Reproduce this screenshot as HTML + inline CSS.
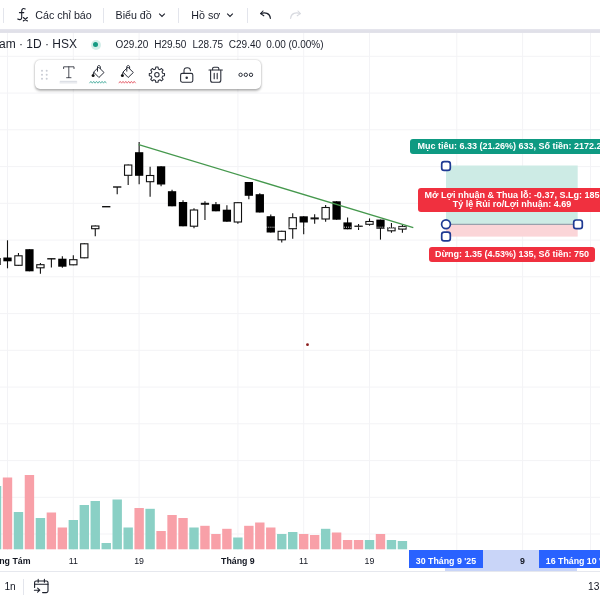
<!DOCTYPE html>
<html lang="vi"><head><meta charset="utf-8"><title>Chart</title>
<style>
html,body{margin:0;padding:0;}
body{width:600px;height:600px;overflow:hidden;background:#fff;position:relative;font-family:"Liberation Sans","DejaVu Sans",sans-serif;color:#131722;}
.abs{position:absolute;white-space:nowrap;}
.top{font-size:10.7px;line-height:14px;top:8px;color:#1b1f2b;}
.vd{position:absolute;width:1px;background:#e3e5ec;}
.leg{font-size:10px;line-height:14px;top:37.6px;color:#1b1f2b;}
.lab{position:absolute;color:#fff;font-weight:bold;font-size:9px;text-align:center;border-radius:3px;white-space:nowrap;}
.ax{font-size:8.8px;line-height:12px;top:554.6px;color:#131722;}
.axb{font-weight:bold;}
.tl{position:absolute;top:550px;height:17.8px;box-sizing:border-box;padding-top:5.3px;background:#2962ff;color:#fff;font-weight:bold;font-size:8.8px;line-height:12px;white-space:nowrap;overflow:hidden;}
</style></head><body>
<svg class="abs" style="left:0;top:0" width="600" height="600" viewBox="0 0 600 600">
<line x1="0" y1="56.3" x2="600" y2="56.3" stroke="#f3f3f6" stroke-width="1"/>
<line x1="0" y1="93.1" x2="600" y2="93.1" stroke="#f3f3f6" stroke-width="1"/>
<line x1="0" y1="129.8" x2="600" y2="129.8" stroke="#f3f3f6" stroke-width="1"/>
<line x1="0" y1="166.6" x2="600" y2="166.6" stroke="#f3f3f6" stroke-width="1"/>
<line x1="0" y1="203.3" x2="600" y2="203.3" stroke="#f3f3f6" stroke-width="1"/>
<line x1="0" y1="240.1" x2="600" y2="240.1" stroke="#f3f3f6" stroke-width="1"/>
<line x1="0" y1="276.8" x2="600" y2="276.8" stroke="#f3f3f6" stroke-width="1"/>
<line x1="0" y1="313.6" x2="600" y2="313.6" stroke="#f3f3f6" stroke-width="1"/>
<line x1="0" y1="350.3" x2="600" y2="350.3" stroke="#f3f3f6" stroke-width="1"/>
<line x1="0" y1="387.1" x2="600" y2="387.1" stroke="#f3f3f6" stroke-width="1"/>
<line x1="0" y1="423.8" x2="600" y2="423.8" stroke="#f3f3f6" stroke-width="1"/>
<line x1="0" y1="460.6" x2="600" y2="460.6" stroke="#f3f3f6" stroke-width="1"/>
<line x1="0" y1="497.3" x2="600" y2="497.3" stroke="#f3f3f6" stroke-width="1"/>
<line x1="0" y1="534.0" x2="600" y2="534.0" stroke="#f3f3f6" stroke-width="1"/>
<line x1="7.5" y1="33" x2="7.5" y2="550" stroke="#f3f3f6" stroke-width="1"/>
<line x1="73.3" y1="33" x2="73.3" y2="550" stroke="#f3f3f6" stroke-width="1"/>
<line x1="139.1" y1="33" x2="139.1" y2="550" stroke="#f3f3f6" stroke-width="1"/>
<line x1="237.9" y1="33" x2="237.9" y2="550" stroke="#f3f3f6" stroke-width="1"/>
<line x1="303.7" y1="33" x2="303.7" y2="550" stroke="#f3f3f6" stroke-width="1"/>
<line x1="369.5" y1="33" x2="369.5" y2="550" stroke="#f3f3f6" stroke-width="1"/>
<line x1="456.8" y1="33" x2="456.8" y2="550" stroke="#f3f3f6" stroke-width="1"/>
<line x1="522.6" y1="33" x2="522.6" y2="550" stroke="#f3f3f6" stroke-width="1"/>
<line x1="590.5" y1="33" x2="590.5" y2="550" stroke="#f3f3f6" stroke-width="1"/>
<rect x="-8.17" y="486.0" width="9.4" height="63.3" fill="#8ad0c5"/>
<rect x="2.80" y="477.5" width="9.4" height="71.8" fill="#f8a0a8"/>
<rect x="13.77" y="512.0" width="9.4" height="37.3" fill="#8ad0c5"/>
<rect x="24.74" y="475.0" width="9.4" height="74.3" fill="#f8a0a8"/>
<rect x="35.71" y="518.0" width="9.4" height="31.3" fill="#8ad0c5"/>
<rect x="46.68" y="512.5" width="9.4" height="36.8" fill="#f8a0a8"/>
<rect x="57.65" y="527.5" width="9.4" height="21.8" fill="#f8a0a8"/>
<rect x="68.62" y="520.0" width="9.4" height="29.3" fill="#8ad0c5"/>
<rect x="79.59" y="505.0" width="9.4" height="44.3" fill="#8ad0c5"/>
<rect x="90.56" y="501.0" width="9.4" height="48.3" fill="#8ad0c5"/>
<rect x="101.53" y="543.0" width="9.4" height="6.3" fill="#8ad0c5"/>
<rect x="112.50" y="499.5" width="9.4" height="49.8" fill="#8ad0c5"/>
<rect x="123.47" y="527.5" width="9.4" height="21.8" fill="#8ad0c5"/>
<rect x="134.44" y="508.0" width="9.4" height="41.3" fill="#f8a0a8"/>
<rect x="145.41" y="508.8" width="9.4" height="40.5" fill="#8ad0c5"/>
<rect x="156.38" y="531.0" width="9.4" height="18.3" fill="#f8a0a8"/>
<rect x="167.35" y="515.0" width="9.4" height="34.3" fill="#f8a0a8"/>
<rect x="178.32" y="518.0" width="9.4" height="31.3" fill="#f8a0a8"/>
<rect x="189.29" y="527.5" width="9.4" height="21.8" fill="#8ad0c5"/>
<rect x="200.26" y="525.8" width="9.4" height="23.5" fill="#f8a0a8"/>
<rect x="211.23" y="534.0" width="9.4" height="15.3" fill="#f8a0a8"/>
<rect x="222.20" y="528.8" width="9.4" height="20.5" fill="#f8a0a8"/>
<rect x="233.17" y="537.5" width="9.4" height="11.8" fill="#8ad0c5"/>
<rect x="244.14" y="525.8" width="9.4" height="23.5" fill="#f8a0a8"/>
<rect x="255.11" y="522.5" width="9.4" height="26.8" fill="#f8a0a8"/>
<rect x="266.08" y="527.5" width="9.4" height="21.8" fill="#f8a0a8"/>
<rect x="277.05" y="534.0" width="9.4" height="15.3" fill="#8ad0c5"/>
<rect x="288.02" y="532.0" width="9.4" height="17.3" fill="#8ad0c5"/>
<rect x="298.99" y="534.0" width="9.4" height="15.3" fill="#f8a0a8"/>
<rect x="309.96" y="535.0" width="9.4" height="14.3" fill="#f8a0a8"/>
<rect x="320.93" y="528.8" width="9.4" height="20.5" fill="#8ad0c5"/>
<rect x="331.90" y="532.5" width="9.4" height="16.8" fill="#f8a0a8"/>
<rect x="342.87" y="540.0" width="9.4" height="9.3" fill="#f8a0a8"/>
<rect x="353.84" y="540.0" width="9.4" height="9.3" fill="#f8a0a8"/>
<rect x="364.81" y="540.0" width="9.4" height="9.3" fill="#8ad0c5"/>
<rect x="375.78" y="534.0" width="9.4" height="15.3" fill="#f8a0a8"/>
<rect x="386.75" y="540.0" width="9.4" height="9.3" fill="#8ad0c5"/>
<rect x="397.72" y="541.0" width="9.4" height="8.3" fill="#8ad0c5"/>
<rect x="446" y="165.5" width="131.7" height="58.5" fill="#cdebe5"/>
<rect x="446" y="224.6" width="131.7" height="12" fill="#fbd5d8"/>
<line x1="446" y1="224.3" x2="578" y2="224.3" stroke="#9aa0ac" stroke-width="1.2"/>
<line x1="-3.47" y1="258.0" x2="-3.47" y2="265.0" stroke="#111" stroke-width="1.1"/>
<rect x="-7.62" y="258.0" width="8.3" height="7.0" fill="#000"/>
<line x1="7.50" y1="240.3" x2="7.50" y2="268.3" stroke="#111" stroke-width="1.1"/>
<rect x="3.35" y="257.5" width="8.3" height="3.8" fill="#000"/>
<line x1="18.47" y1="253.0" x2="18.47" y2="265.8" stroke="#111" stroke-width="1.1"/>
<rect x="14.82" y="255.8" width="7.300000000000001" height="9.5" fill="#fff" stroke="#111" stroke-width="1.1"/>
<line x1="29.44" y1="249.2" x2="29.44" y2="271.3" stroke="#111" stroke-width="1.1"/>
<rect x="25.29" y="249.2" width="8.3" height="22.1" fill="#000"/>
<line x1="40.41" y1="263.0" x2="40.41" y2="273.7" stroke="#111" stroke-width="1.1"/>
<rect x="36.76" y="264.7" width="7.300000000000001" height="3.1" fill="#fff" stroke="#111" stroke-width="1.1"/>
<line x1="51.38" y1="258.8" x2="51.38" y2="267.5" stroke="#111" stroke-width="1.1"/>
<line x1="47.23" y1="258.8" x2="55.53" y2="258.8" stroke="#111" stroke-width="1.4"/>
<line x1="62.35" y1="256.3" x2="62.35" y2="267.8" stroke="#111" stroke-width="1.1"/>
<rect x="58.20" y="258.7" width="8.3" height="8.0" fill="#000"/>
<line x1="73.32" y1="255.3" x2="73.32" y2="265.3" stroke="#111" stroke-width="1.1"/>
<rect x="69.67" y="259.7" width="7.300000000000001" height="5.1" fill="#fff" stroke="#111" stroke-width="1.1"/>
<line x1="84.29" y1="243.3" x2="84.29" y2="258.3" stroke="#111" stroke-width="1.1"/>
<rect x="80.64" y="243.8" width="7.300000000000001" height="14.0" fill="#fff" stroke="#111" stroke-width="1.1"/>
<line x1="95.26" y1="225.5" x2="95.26" y2="236.3" stroke="#111" stroke-width="1.1"/>
<rect x="91.61" y="226.0" width="7.300000000000001" height="2.7" fill="#fff" stroke="#111" stroke-width="1.1"/>
<line x1="102.08" y1="206.7" x2="110.38" y2="206.7" stroke="#111" stroke-width="1.4"/>
<line x1="117.20" y1="187.0" x2="117.20" y2="194.2" stroke="#111" stroke-width="1.1"/>
<line x1="113.05" y1="187.0" x2="121.35" y2="187.0" stroke="#111" stroke-width="1.4"/>
<line x1="128.17" y1="164.5" x2="128.17" y2="185.0" stroke="#111" stroke-width="1.1"/>
<rect x="124.52" y="165.0" width="7.300000000000001" height="10.3" fill="#fff" stroke="#111" stroke-width="1.1"/>
<line x1="139.14" y1="142.0" x2="139.14" y2="184.2" stroke="#111" stroke-width="1.1"/>
<rect x="134.99" y="152.2" width="8.3" height="23.6" fill="#000"/>
<line x1="150.11" y1="166.7" x2="150.11" y2="196.7" stroke="#111" stroke-width="1.1"/>
<rect x="146.46" y="175.5" width="7.300000000000001" height="6.2" fill="#fff" stroke="#111" stroke-width="1.1"/>
<line x1="161.08" y1="166.3" x2="161.08" y2="186.3" stroke="#111" stroke-width="1.1"/>
<rect x="156.93" y="166.3" width="8.3" height="18.2" fill="#000"/>
<line x1="172.05" y1="189.7" x2="172.05" y2="206.3" stroke="#111" stroke-width="1.1"/>
<rect x="167.90" y="191.2" width="8.3" height="15.1" fill="#000"/>
<line x1="183.02" y1="200.3" x2="183.02" y2="226.3" stroke="#111" stroke-width="1.1"/>
<rect x="178.87" y="202.0" width="8.3" height="24.3" fill="#000"/>
<line x1="193.99" y1="208.3" x2="193.99" y2="228.3" stroke="#111" stroke-width="1.1"/>
<rect x="190.34" y="210.0" width="7.300000000000001" height="16.2" fill="#fff" stroke="#111" stroke-width="1.1"/>
<line x1="204.96" y1="201.3" x2="204.96" y2="220.0" stroke="#111" stroke-width="1.1"/>
<line x1="200.81" y1="203.8" x2="209.11" y2="203.8" stroke="#111" stroke-width="2.0"/>
<line x1="215.93" y1="202.0" x2="215.93" y2="211.3" stroke="#111" stroke-width="1.1"/>
<rect x="211.78" y="204.2" width="8.3" height="7.1" fill="#000"/>
<line x1="226.90" y1="205.3" x2="226.90" y2="221.7" stroke="#111" stroke-width="1.1"/>
<rect x="222.75" y="209.7" width="8.3" height="12.0" fill="#000"/>
<line x1="237.87" y1="202.2" x2="237.87" y2="223.7" stroke="#111" stroke-width="1.1"/>
<rect x="234.22" y="202.7" width="7.300000000000001" height="19.3" fill="#fff" stroke="#111" stroke-width="1.1"/>
<line x1="248.84" y1="182.0" x2="248.84" y2="199.2" stroke="#111" stroke-width="1.1"/>
<rect x="244.69" y="182.0" width="8.3" height="13.8" fill="#000"/>
<line x1="259.81" y1="193.3" x2="259.81" y2="212.5" stroke="#111" stroke-width="1.1"/>
<rect x="255.66" y="194.2" width="8.3" height="18.3" fill="#000"/>
<line x1="270.78" y1="214.5" x2="270.78" y2="232.5" stroke="#111" stroke-width="1.1"/>
<rect x="266.63" y="216.2" width="8.3" height="16.3" fill="#000"/>
<line x1="281.75" y1="230.8" x2="281.75" y2="242.5" stroke="#111" stroke-width="1.1"/>
<rect x="278.10" y="231.3" width="7.300000000000001" height="8.5" fill="#fff" stroke="#111" stroke-width="1.1"/>
<line x1="292.72" y1="213.3" x2="292.72" y2="238.7" stroke="#111" stroke-width="1.1"/>
<rect x="289.07" y="217.7" width="7.300000000000001" height="11.0" fill="#fff" stroke="#111" stroke-width="1.1"/>
<line x1="303.69" y1="216.3" x2="303.69" y2="234.2" stroke="#111" stroke-width="1.1"/>
<rect x="299.54" y="216.3" width="8.3" height="6.2" fill="#000"/>
<line x1="314.66" y1="214.2" x2="314.66" y2="223.7" stroke="#111" stroke-width="1.1"/>
<line x1="310.51" y1="218.4" x2="318.81" y2="218.4" stroke="#111" stroke-width="2.0"/>
<line x1="325.63" y1="205.0" x2="325.63" y2="221.7" stroke="#111" stroke-width="1.1"/>
<rect x="321.98" y="207.5" width="7.300000000000001" height="11.5" fill="#fff" stroke="#111" stroke-width="1.1"/>
<line x1="336.60" y1="201.3" x2="336.60" y2="219.7" stroke="#111" stroke-width="1.1"/>
<rect x="332.45" y="201.3" width="8.3" height="18.4" fill="#000"/>
<line x1="347.57" y1="217.4" x2="347.57" y2="229.3" stroke="#111" stroke-width="1.1"/>
<rect x="343.42" y="222.4" width="8.3" height="6.9" fill="#000"/>
<line x1="358.54" y1="224.0" x2="358.54" y2="230.0" stroke="#111" stroke-width="1.1"/>
<line x1="354.39" y1="226.3" x2="362.69" y2="226.3" stroke="#111" stroke-width="1.4"/>
<line x1="369.51" y1="218.4" x2="369.51" y2="225.7" stroke="#111" stroke-width="1.1"/>
<rect x="365.86" y="221.5" width="7.300000000000001" height="2.8" fill="#fff" stroke="#111" stroke-width="1.1"/>
<line x1="380.48" y1="219.6" x2="380.48" y2="239.6" stroke="#111" stroke-width="1.1"/>
<rect x="376.33" y="219.6" width="8.3" height="9.1" fill="#000"/>
<line x1="391.45" y1="223.0" x2="391.45" y2="232.7" stroke="#111" stroke-width="1.1"/>
<rect x="387.80" y="227.8" width="7.300000000000001" height="3.0" fill="#fff" stroke="#111" stroke-width="1.1"/>
<line x1="402.42" y1="225.0" x2="402.42" y2="232.7" stroke="#111" stroke-width="1.1"/>
<rect x="398.77" y="226.5" width="7.300000000000001" height="2.6" fill="#fff" stroke="#111" stroke-width="1.1"/>
<line x1="262" y1="227.2" x2="412" y2="227.2" stroke="#fff" stroke-width="0.9" stroke-dasharray="1 1.1"/>
<line x1="138.7" y1="144.7" x2="413.3" y2="227.6" stroke="#45984d" stroke-width="1.35"/>
<circle cx="307.5" cy="344.7" r="1.4" fill="#8a1c1c"/>
<rect x="441.7" y="161.7" width="8.6" height="8.6" rx="2.4" fill="#fff" stroke="#1f3a93" stroke-width="1.7"/>
<rect x="441.7" y="232.2" width="8.6" height="8.6" rx="2.4" fill="#fff" stroke="#1f3a93" stroke-width="1.7"/>
<rect x="573.7" y="220.0" width="8.6" height="8.6" rx="2.4" fill="#fff" stroke="#1f3a93" stroke-width="1.7"/>
<circle cx="446" cy="224.3" r="4.4" fill="#fff" stroke="#1f3a93" stroke-width="1.7"/>
</svg>

<!-- top toolbar -->
<div class="abs" style="left:0;top:28.7px;width:600px;height:4.1px;background:linear-gradient(#e7e7ee,#dfdfe8 50%,#e3e3ea)"></div>
<div class="vd" style="left:3.3px;top:7.5px;height:15px"></div>
<div class="vd" style="left:103px;top:7.5px;height:15px"></div>
<div class="vd" style="left:178px;top:7.5px;height:15px"></div>
<div class="vd" style="left:247px;top:7.5px;height:15px"></div>
<svg class="abs" style="left:16px;top:7px" width="14" height="16" viewBox="0 0 14 16" fill="none" stroke="#1b1f2b" stroke-width="1.1" stroke-linecap="round">
<path d="M9.2 2 C7.4 1 5.7 1.6 5.7 4 V10.4 C5.7 12.6 3.8 13.2 1.7 12.1"/><path d="M3.4 5.6 H7.8"/><path d="M7.3 10.5 L11.4 14 M11.4 10.5 L7.3 14"/></svg>
<div class="abs top" style="left:35.3px">Các chỉ báo</div>
<div class="abs top" style="left:115.5px">Biểu đồ</div>
<svg class="abs" style="left:158px;top:12px" width="8" height="6" viewBox="0 0 8 6" fill="none" stroke="#1b1f2b" stroke-width="1.1"><path d="M1.2 1.7 L4 4.4 L6.8 1.7"/></svg>
<div class="abs top" style="left:191.3px">Hồ sơ</div>
<svg class="abs" style="left:226px;top:12px" width="8" height="6" viewBox="0 0 8 6" fill="none" stroke="#1b1f2b" stroke-width="1.1"><path d="M1.2 1.7 L4 4.4 L6.8 1.7"/></svg>
<svg class="abs" style="left:259px;top:9px" width="14" height="12" viewBox="0 0 14 12" fill="none" stroke="#1b1f2b" stroke-width="1.1" stroke-linecap="round" stroke-linejoin="round"><path d="M4 2 L1.6 4.6 L4.8 6.8"/><path d="M1.8 4.6 C6 3 11 4 11.4 9.4"/></svg>
<svg class="abs" style="left:287.5px;top:9px" width="14" height="12" viewBox="0 0 14 12" fill="none" stroke="#d8dae0" stroke-width="1.1" stroke-linecap="round" stroke-linejoin="round"><path d="M10 2 L12.4 4.6 L9.2 6.8"/><path d="M12.2 4.6 C8 3 3 4 2.6 9.4"/></svg>

<!-- legend -->
<div class="abs leg" style="left:-1px;font-size:12px;top:37px">am · 1D · HSX</div>
<div class="abs" style="left:90.5px;top:39.5px;width:10px;height:10px;border-radius:50%;background:#d3eee9"></div>
<div class="abs" style="left:93px;top:42px;width:5px;height:5px;border-radius:50%;background:#169a83"></div>
<div class="abs leg" style="left:115.5px">O29.20</div>
<div class="abs leg" style="left:154.2px">H29.50</div>
<div class="abs leg" style="left:192.5px">L28.75</div>
<div class="abs leg" style="left:228.8px">C29.40</div>
<div class="abs leg" style="left:266.3px">0.00 (0.00%)</div>

<!-- floating toolbar -->
<div class="abs" style="left:34.6px;top:59.8px;width:226px;height:29.4px;border-radius:5px;background:#fff;box-shadow:0 1.2px 2.6px rgba(0,0,0,.28),0 0 2px rgba(0,0,0,.2)"></div>
<svg class="abs" style="left:34px;top:59px" width="230" height="32" viewBox="34 59 230 32" fill="none">
<g fill="#c9ccd4"><circle cx="42" cy="70.7" r="1"/><circle cx="46.7" cy="70.7" r="1"/><circle cx="42" cy="74.7" r="1"/><circle cx="46.7" cy="74.7" r="1"/><circle cx="42" cy="78.7" r="1"/><circle cx="46.7" cy="78.7" r="1"/></g>
<!-- T -->
<g stroke="#2a2e39" stroke-width="0.85" stroke-linecap="round"><path d="M63.6 68.6 V66.8 H74 V68.6"/><path d="M68.8 66.8 V77.6"/><path d="M66.6 77.7 H71"/></g>
<path d="M59.6 82.3 H77.2" stroke="#e9ebef" stroke-width="2.6"/><path d="M60 81.3 H76.8" stroke="#d3d6dd" stroke-width="0.7"/>
<!-- bucket 1 -->
<g stroke="#2a2e39" stroke-width="1" stroke-linejoin="round" stroke-linecap="round"><path d="M98.9 67.4 L104 72.5 L98.9 77.5 L93.9 72.4 Z"/><path d="M97.5 71.2 V67 C97.5 65 100.3 65 100.3 67 V68.6"/><circle cx="93.1" cy="75.4" r="1.5" fill="#111" stroke="none"/><path d="M93.9 72.4 L93.2 74"/></g>
<path d="M89.5 83.2 l1.4 -1.9 l1.4 1.9 l1.4 -1.9 l1.4 1.9 l1.4 -1.9 l1.4 1.9 l1.4 -1.9 l1.4 1.9 l1.4 -1.9 l1.4 1.9 l1.4 -1.9 l1.4 1.9" stroke="#4fb0a1" stroke-width="0.9"/>
<g transform="translate(29.3,0)" stroke="#2a2e39" stroke-width="1" stroke-linejoin="round" stroke-linecap="round"><path d="M98.9 67.4 L104 72.5 L98.9 77.5 L93.9 72.4 Z"/><path d="M97.5 71.2 V67 C97.5 65 100.3 65 100.3 67 V68.6"/><circle cx="93.1" cy="75.4" r="1.5" fill="#111" stroke="none"/><path d="M93.9 72.4 L93.2 74"/></g>
<path d="M118.8 83.2 l1.4 -1.9 l1.4 1.9 l1.4 -1.9 l1.4 1.9 l1.4 -1.9 l1.4 1.9 l1.4 -1.9 l1.4 1.9 l1.4 -1.9 l1.4 1.9 l1.4 -1.9 l1.4 1.9" stroke="#e5626d" stroke-width="0.9"/>
<!-- gear -->
<g stroke="#2a2e39" stroke-width="1.05" stroke-linejoin="round"><path d="M155.47 68.98 L155.75 67.09 L158.05 67.09 L158.33 68.98 L159.94 69.64 L161.47 68.50 L163.10 70.13 L161.96 71.66 L162.62 73.27 L164.51 73.55 L164.51 75.85 L162.62 76.13 L161.96 77.74 L163.10 79.27 L161.47 80.90 L159.94 79.76 L158.33 80.42 L158.05 82.31 L155.75 82.31 L155.47 80.42 L153.86 79.76 L152.33 80.90 L150.70 79.27 L151.84 77.74 L151.18 76.13 L149.29 75.85 L149.29 73.55 L151.18 73.27 L151.84 71.66 L150.70 70.13 L152.33 68.50 L153.86 69.64 Z"/><circle cx="156.9" cy="74.7" r="2.2"/></g>
<!-- lock -->
<g stroke="#2a2e39" stroke-width="1.1" stroke-linejoin="round" stroke-linecap="round"><rect x="180.6" y="73.4" width="12.2" height="8.8" rx="1.6"/><path d="M184 73.2 V70.6 C184 66.8 190.4 66.8 190.4 70.6"/><circle cx="186.7" cy="77.8" r="0.7" fill="#2a2e39"/></g>
<!-- trash -->
<g stroke="#2a2e39" stroke-width="1.1" stroke-linejoin="round" stroke-linecap="round"><path d="M209 70 H222.4"/><path d="M212.6 69.8 V68.6 C212.6 67.6 213.2 67.2 214 67.2 H217.4 C218.2 67.2 218.8 67.6 218.8 68.6 V69.8"/><path d="M210.6 70.2 V80.2 C210.6 81.6 211.4 82.2 212.6 82.2 H218.8 C220 82.2 220.8 81.6 220.8 80.2 V70.2"/><path d="M214.2 73.4 V78.8 M217.2 73.4 V78.8"/></g>
<!-- dots -->
<g stroke="#2a2e39" stroke-width="1"><circle cx="240.6" cy="74.8" r="1.7"/><circle cx="245.8" cy="74.8" r="1.7"/><circle cx="251" cy="74.8" r="1.7"/></g>
</svg>

<!-- position labels -->
<div class="lab" style="left:410px;top:139.2px;width:204px;height:15px;line-height:15px;background:#0e9a82">Mục tiêu: 6.33 (21.26%) 633, Số tiền: 2172.25</div>
<div class="lab" style="left:418px;top:188px;width:188px;height:24px;line-height:9.3px;background:#f0303f;padding-top:0"><div style="padding-top:3.1px">Mở Lợi nhuận &amp; Thua lỗ: -0.37, S.Lg: 185</div><div>Tỷ lệ Rủi ro/Lợi nhuận: 4.69</div></div>
<div class="lab" style="left:429.2px;top:247px;width:165.5px;height:15px;line-height:15px;background:#f0303f">Dừng: 1.35 (4.53%) 135, Số tiền: 750</div>

<!-- time axis -->
<div class="abs" style="left:445.3px;top:550px;width:132px;height:21.3px;background:#c9d5f8"></div>
<div class="abs" style="left:0;top:571.1px;width:600px;height:1px;background:#e6e8ee"></div>
<div class="abs ax axb" style="left:-16.4px">Tháng Tám</div>
<div class="abs ax" style="left:73.3px;transform:translateX(-50%)">11</div>
<div class="abs ax" style="left:139.1px;transform:translateX(-50%)">19</div>
<div class="abs ax axb" style="left:237.9px;transform:translateX(-50%)">Tháng 9</div>
<div class="abs ax" style="left:303.7px;transform:translateX(-50%)">11</div>
<div class="abs ax" style="left:369.5px;transform:translateX(-50%)">19</div>
<div class="abs ax axb" style="left:522.5px;transform:translateX(-50%)">9</div>
<div class="tl" style="left:409.2px;width:73.6px;text-align:center">30 Tháng 9 '25</div>
<div class="tl" style="left:538.9px;width:62px;padding-left:6.9px">16 Tháng 10 '25</div>

<!-- bottom bar -->
<div class="abs" style="left:4.4px;top:580.1px;font-size:10.2px;line-height:14px">1n</div>
<div class="vd" style="left:23px;top:578.5px;height:16.5px"></div>
<svg class="abs" style="left:32.6px;top:578.2px" width="18" height="17" viewBox="0 0 18 17" fill="none" stroke="#1b1f2b" stroke-width="1.1" stroke-linecap="round" stroke-linejoin="round">
<path d="M1.6 9.4 V4.6 C1.6 3.6 2.2 3 3.2 3 H13.4 C14.4 3 15 3.6 15 4.6 V13 C15 14 14.4 14.6 13.4 14.6 H9.6"/><path d="M1.6 6.2 H15"/><path d="M5.2 1.4 V4.2 M11.4 1.4 V4.2"/><path d="M1.4 12.2 H6.6 M4.6 10.2 L6.8 12.2 L4.6 14.2"/></svg>
<div class="abs" style="left:588px;top:580.2px;font-size:10.2px;line-height:14px">13</div>
</body></html>
